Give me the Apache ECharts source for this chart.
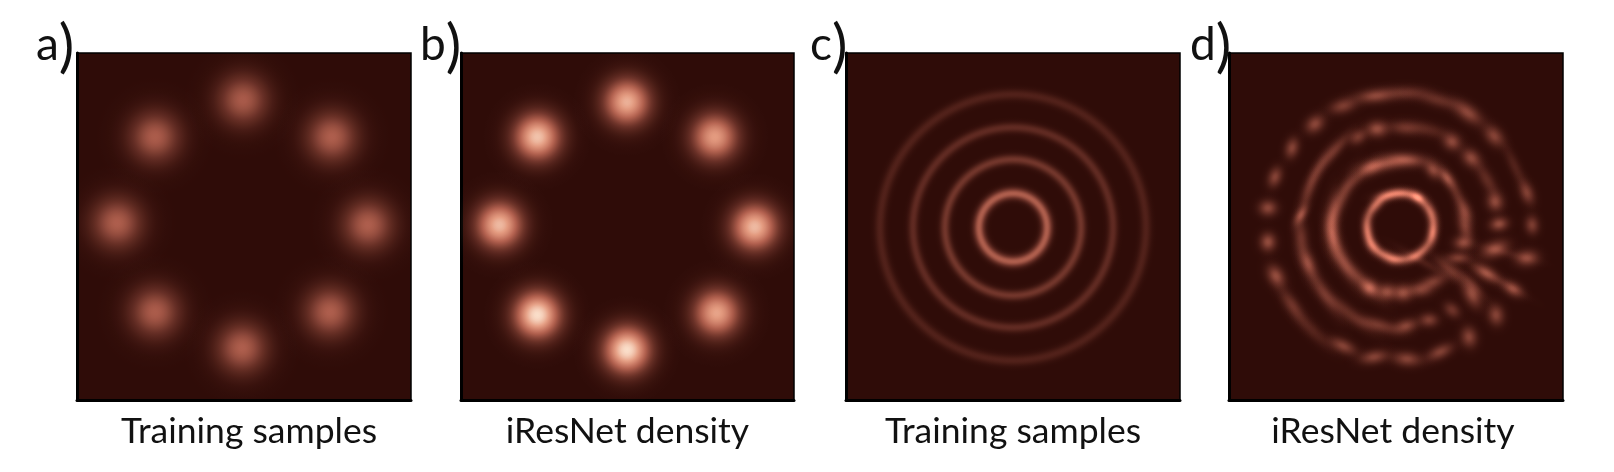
<!DOCTYPE html>
<html><head><meta charset="utf-8">
<style>html,body{margin:0;padding:0;background:#fff}#c{width:1614px;height:472px}</style>
<script src="https://cdn.jsdelivr.net/npm/echarts@6/dist/echarts.min.js"></script>
</head><body><div id="c"></div>
<script>
// Read-off values. Units: panel-centred density-plane coordinates, y upward.
const panelTags = ['a', 'b', 'c', 'd'];
const panelNames = ['Training samples', 'iResNet density', 'Training samples', 'iResNet density'];
// colour ramp: density -> rgb
const rampValues = [0, 0.25, 0.5, 0.75, 1];
const rampColors = [[47,12,8],[108,50,40],[180,98,80],[228,155,128],[253,232,212]];
// blobs: x, y, peak density, long spread, short spread, angle
const blobsA = [[-1,126.5,.46,17.5,17.5,0],[88,89.5,.48,17.5,17.5,0],[124,1.5,.48,17.5,17.5,0],[86,-85.5,.48,17.5,17.5,0],
  [-2,-121.5,.48,17.5,17.5,0],[-89,-85.5,.47,17.5,17.5,0],[-127,3.5,.48,17.5,17.5,0],[-89,89.5,.47,17.5,17.5,0]];
const blobsB = [[-.5,124.5,.82,16,16,0],[87.5,89.5,.75,16,16,0],[127.5,-.5,.85,16,16,0],[89.5,-86.5,.78,16,16,0],
  [-.5,-123.5,.97,16,16,0],[-90.5,-88.5,.97,16,16,0],[-128.5,1.5,.85,16,16,0],[-90.5,89.5,.88,16,16,0]];
// rings: x, y, radius, spread, peak density
const ringsC = [[0,-1,34,3.8,.48],[0,-1,68,3.4,.27],[0,-1,100,3.4,.2],[0,-1,133,3.6,.14]];
const ringsD = [[4,0,33,3.4,.42]];
const spotsD = [[22,29.5,.5,3.5,2.2,-30],[-8,31.5,.3,6,2.2,10],[7,33.5,.2,5,2.2,0],[-19,21.5,.2,4,2.2,50],[-28,-6.5,.25,6,2.2,-80],
  [-23,-20.5,.25,4,2.4,-50],[-9,-28.5,.2,4,2.2,-20],[-1,-33.5,.25,4,2.4,0],[21,-28.5,.2,5,2.2,35],[37,-6.5,.3,5,2.2,85],[36,14.5,.2,5,2.2,-70]];
const outerArmD = [[9,133.5,.22,9,3,0],[42,126.5,.22,9,3,-15],[72,113.5,.35,7,3.5,-35],[98,90.5,.33,5,3.5,-50],[119,59.5,.14,10,2.5,-65],
  [131,33.5,.3,5,3,-70],[136,1.5,.3,4,3,-85],[-21,130.5,.35,8,3,5],[-53,120.5,.3,6,3.2,15],[-81,102.5,.35,4.5,3.5,40],[-104,78.5,.33,4.5,3,75],
  [-121,49.5,.33,4.5,3,70],[-128,18.5,.35,4,3.5,0],[-128,-15.5,.38,4,3.5,90],[-120,-49.5,.38,5,3.5,-60],[-104,-78.5,.25,8,3,-55],
  [-84,-103.5,.15,10,3,-45],[-53,-119.5,.33,6,3,-25],[-22,-130.5,.33,6,3,10]];
const middleArmD = [[9,98.5,.25,7,3,-5],[34,96.5,.15,9,3,-15],[56,84.5,.35,4,3.5,-30],[75,68.5,.35,4.5,3.5,-45],[91,46.5,.2,8,3,-60],
  [99,24.5,.35,4,3.5,-75],[103,2.5,.38,4,3,10],[-19,97.5,.38,4.5,3.5,0],[-38,89.5,.28,4,3,35],[-61,76.5,.25,9,2.5,50],[-78,56.5,.22,10,2.5,60],
  [-88,33.5,.2,10,2.5,70],[-95,11.5,.35,4.5,2.2,60],[-95,-11.5,.25,8,3,-85],[-88,-36.5,.35,6,3,-70],[-74,-63.5,.22,12,3,-58],[-51,-83.5,.2,13,3,-38],[-18,-98.5,.28,9,3,-15]];
const innerArmD = [[-11,62.5,.35,10,3,10],[11,66.5,.35,9,3,-5],[37,56.5,.35,4,3,-55],[51,48.5,.4,5,2.5,-55],[62,29.5,.2,8,2.5,-65],[69,14.5,.25,5,3,-70],
  [69,-.5,.3,6,3,-75],[-24,58.5,.28,5,3,30],[-38,49.5,.2,8,2.5,45],[-54,29.5,.27,11,2.8,65],[-63,9.5,.3,10,3,85],[-63,-10.5,.33,9,3,-80],
  [-54,-31.5,.27,11,3,-65],[-38,-50.5,.27,12,3,-45],[-26,-61.5,.4,4,3.5,-30],[-9,-65.5,.38,4,3.5,0]];
const spokesD = [[67,-16.5,.35,4,3,0],[62,-31.5,.3,5,2.5,0],[99,-22.5,.38,6,3.5,20],[131,-31.5,.35,5,3.5,5],[54,-43.5,.25,8,2.5,-40],[90,-46.5,.38,6,3,-30],
  [117,-62.5,.35,4.5,3,-30],[37,-55.5,.3,6,3,20],[24,-63.5,.28,5,3,0],[7,-66.5,.38,4,3.5,0],[76,-67.5,.38,6,3.5,-65],[56,-83.5,.25,4,3,-40],
  [100,-88.5,.33,4.5,3.5,-80],[33,-93.5,.3,4,3,0],[10,-99.5,.33,5,3,15],[73,-110.5,.33,4.5,3.5,-80],[44,-125.5,.32,6,3,25],[11,-132.5,.33,6,3.2,-5],
  [111,-26.5,.08,12,2,-15],[104,-54.5,.1,12,2,-30],[27,-35.5,.12,12,2,-30],[74,-55.5,.1,10,2,-45]];

function ramp(v) {
  v = Math.min(1, Math.max(0, v));
  let i = 0; while (i < rampValues.length - 2 && v > rampValues[i + 1]) i++;
  const t = (v - rampValues[i]) / (rampValues[i + 1] - rampValues[i]);
  return rampColors[i].map((c, k) => c + (rampColors[i + 1][k] - c) * t);
}
function added(v) { // what to add on top of the panel background
  const c = ramp(v), b = rampColors[0];
  return 'rgb(' + c.map((x, k) => Math.round(Math.max(0, x - b[k]))).join(',') + ')';
}
const gauss = d => Math.exp(-d * d / 2);
const renderBlob = k => function (params, api) {
  const p = api.coord([api.value(0), api.value(1)]), u = api.size([1, 1]);
  const peak = api.value(2), sl = api.value(3) * k, ss = api.value(4) * k, ang = api.value(5);
  const stops = [];
  for (let i = 0; i <= 20; i++) stops.push({ offset: i / 20, color: added(peak * gauss(3.4 * i / 20)) });
  stops[20].color = 'rgb(0,0,0)';
  return { type: 'circle', x: p[0], y: p[1], rotation: ang * Math.PI / 180,
    scaleX: 3.4 * sl * u[0] / 100, scaleY: 3.4 * ss * u[1] / 100,
    shape: { cx: 0, cy: 0, r: 100 },
    style: { fill: { type: 'radial', x: .5, y: .5, r: .5, colorStops: stops } } };
};
function renderRing(params, api) {
  const p = api.coord([api.value(0), api.value(1)]), u = api.size([1, 1]);
  const r = api.value(2), s = api.value(3), peak = api.value(4);
  const ro = r + 3.4 * s, ri = r - 3.4 * s, stops = [{ offset: 0, color: 'rgb(0,0,0)' }, { offset: ri / ro, color: 'rgb(0,0,0)' }];
  for (let i = 1; i < 24; i++) { const x = ri + (ro - ri) * i / 24; stops.push({ offset: x / ro, color: added(peak * gauss((x - r) / s)) }); }
  stops.push({ offset: 1, color: 'rgb(0,0,0)' });
  return { type: 'circle', x: p[0], y: p[1], scaleX: ro * u[0] / 100, scaleY: ro * u[1] / 100,
    shape: { cx: 0, cy: 0, r: 100 },
    style: { fill: { type: 'radial', x: .5, y: .5, r: .5, colorStops: stops } } };
}
const lefts = [77, 461, 846, 1229], widths = [334, 333, 334, 334];
const tagLefts = [36, 420, 810, 1190];
const namePads = [[0,0,0,10],[0,0,0,0],[0,0,0,0],[0,6,0,0]];
const font = 'Lato';
const grids = lefts.map((l, i) => ({ left: l, top: 53, width: widths[i], height: 347, show: true,
  backgroundColor: 'rgb(' + rampColors[0].join(',') + ')', borderColor: '#000', borderWidth: 1.5 }));
const axisLine = { show: true, onZero: false, lineStyle: { color: '#000', width: 3 } };
const xAxes = panelNames.map((n, i) => ({ type: 'value', gridIndex: i, min: -167, max: 167, name: n, nameLocation: 'middle', nameGap: 14,
  nameTextStyle: { fontFamily: font, fontSize: 35.5, color: '#111', verticalAlign: 'top', padding: namePads[i] },
  axisLine, axisTick: { show: false }, axisLabel: { show: false }, splitLine: { show: false } }));
const yAxes = panelNames.map((n, i) => ({ type: 'value', gridIndex: i, min: -173.5, max: 173.5,
  axisLine, axisTick: { show: false }, axisLabel: { show: false }, splitLine: { show: false } }));
const titles = panelTags.map((t, i) => ({ text: '{t|' + t + '}{p|)}', left: tagLefts[i], top: 18, padding: 0,
  textStyle: { fontFamily: font, fontWeight: 'normal', color: '#111', rich: {
    t: { fontFamily: font, fontWeight: 'normal', fontSize: 46, color: '#111', verticalAlign: 'bottom', padding: [0, 0, 8, 0] },
    p: { fontFamily: font, fontWeight: 'normal', fontSize: 58, color: '#111', verticalAlign: 'bottom' } } } }));
const mk = (name, idx, render, data) => ({ type: 'custom', name, xAxisIndex: idx, yAxisIndex: idx, clip: true, silent: true, blendMode: 'lighter',
  renderItem: render, data, encode: { x: 0, y: 1 } });
const dSpread = 1.55;
const series = [
  mk('a', 0, renderBlob(1), blobsA), mk('b', 1, renderBlob(1), blobsB), mk('c', 2, renderRing, ringsC),
  mk('d ring', 3, renderRing, ringsD), mk('d spots', 3, renderBlob(dSpread), spotsD), mk('d outer', 3, renderBlob(dSpread), outerArmD),
  mk('d middle', 3, renderBlob(dSpread), middleArmD), mk('d inner', 3, renderBlob(dSpread), innerArmD), mk('d spokes', 3, renderBlob(dSpread), spokesD)
];
const chart = echarts.init(document.getElementById('c'), null, { renderer: 'canvas', width: 1614, height: 472 });
chart.setOption({ animation: false, backgroundColor: '#fff', title: titles, grid: grids, xAxis: xAxes, yAxis: yAxes, series });
</script></body></html>
